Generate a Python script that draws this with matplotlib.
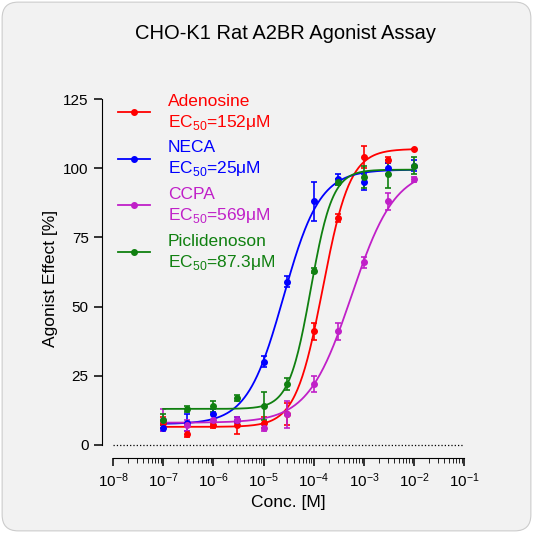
import matplotlib
matplotlib.use('Agg')
import matplotlib.pyplot as plt
import numpy as np
from matplotlib.patches import FancyBboxPatch
from matplotlib.ticker import LogLocator, NullFormatter

plt.rcParams['font.family'] = ['Liberation Sans', 'DejaVu Sans']
plt.rcParams['mathtext.fontset'] = 'custom'
plt.rcParams['mathtext.rm'] = 'Liberation Sans'

conc = [1e-7, 3e-7, 1e-6, 3e-6, 1e-5, 3e-5, 1e-4, 3e-4, 1e-3, 3e-3, 1e-2]

names = ['Adenosine', 'NECA', 'CCPA', 'Piclidenoson']
ec50_text = ['152\u03bcM', '25\u03bcM', '569\u03bcM', '87.3\u03bcM']
colors = ['#ff0000', '#0000ff', '#c020c8', '#108010']

adenosine = [8, 4, 7, 7, 8, 11, 41, 82, 104, 103, 107]
adenosine_err = [2, 1, 1, 3, 2, 4, 3, 1.5, 4, 1, 0]
neca = [6, 8, 11, 9, 30, 59, 88, 96, 95, 100, 101]
neca_err = [1, 3, 2, 1, 2, 2, 7, 2, 3, 2, 2]
ccpa = [9, 7, 9, 9, 6, 11, 22, 41, 66, 88, 96]
ccpa_err = [4, 2, 2, 1, 1, 5, 3, 3, 2, 3, 1]
picli = [9, 13, 14, 17, 14, 22, 63, 95, 97, 98, 101]
picli_err = [2, 1, 2, 1, 5, 2, 1, 1, 4, 5, 3]

# fit parameters (bottom, top, EC50 [M], hill)
fits = [(6.5, 107, 1.52e-4, 1.6),
        (7.5, 99.5, 2.5e-5, 1.2),
        (8, 100, 5.69e-4, 1.0),
        (13, 99.5, 8.73e-5, 2.0)]

means = [adenosine, neca, ccpa, picli]
errs = [adenosine_err, neca_err, ccpa_err, picli_err]

fig = plt.figure(figsize=(5.33, 5.33), dpi=100)
fig.patch.set_facecolor('white')
bg = FancyBboxPatch((0.004, 0.004), 0.992, 0.992, boxstyle='round,pad=0,rounding_size=0.03',
                    transform=fig.transFigure, facecolor='#f2f2f2', edgecolor='#cccccc',
                    lw=0.8, zorder=-10)
fig.patches.append(bg)

ax = fig.add_axes([0.212, 0.141, 0.659, 0.673])
ax.set_facecolor('none')

xs = np.logspace(-7, -2, 300)
for i in range(4):
    b, t, ec, h = fits[i]
    ax.plot(xs, b + (t - b) / (1 + (ec / xs) ** h), color=colors[i], lw=1.3)
    ax.errorbar(conc, means[i], yerr=errs[i], fmt='o', ms=4, color=colors[i],
                capsize=2.5, elinewidth=1.2, capthick=1.2)

ax.axhline(0, color='black', ls=':', lw=0.9)
ax.set_xscale('log')
ax.set_xlim(1e-8, 1e-1)
ax.set_ylim(-4.7, 125)
ax.set_yticks([0, 25, 50, 75, 100, 125])
ax.xaxis.set_major_locator(LogLocator(base=10, numticks=20))
ax.xaxis.set_minor_locator(LogLocator(base=10, subs=np.arange(2, 10), numticks=20))
ax.xaxis.set_minor_formatter(NullFormatter())
ax.spines['top'].set_visible(False)
ax.spines['right'].set_visible(False)
ax.spines['left'].set_position(('outward', 8))
ax.spines['left'].set_bounds(0, 125)
ax.tick_params(labelsize=11, width=1.1, length=6)
ax.tick_params(which='minor', length=3.5)
ax.set_xlabel('Conc. [M]', fontsize=12.5)
ax.set_ylabel('Agonist Effect [%]', fontsize=12.5)
fig.text(0.535, 0.937, 'CHO-K1 Rat A2BR Agonist Assay', ha='center', va='center', fontsize=14.5)

# legend
for i in range(4):
    y0 = 1 - (112 + i * 46.7) / 533
    fig.add_artist(plt.Line2D([118 / 533, 150 / 533], [y0, y0], color=colors[i], lw=1.3,
                              transform=fig.transFigure))
    fig.add_artist(plt.Line2D([134 / 533], [y0], color=colors[i], marker='o', ms=4,
                              transform=fig.transFigure))
    fig.text(168 / 533, y0 + 11 / 533, names[i], color=colors[i], fontsize=12.5, va='center')
    fig.text(168 / 533, y0 - 10 / 533, 'EC$_{50}$=' + ec50_text[i], color=colors[i],
             fontsize=12.5, va='center')

plt.savefig('out.png', dpi=100)
